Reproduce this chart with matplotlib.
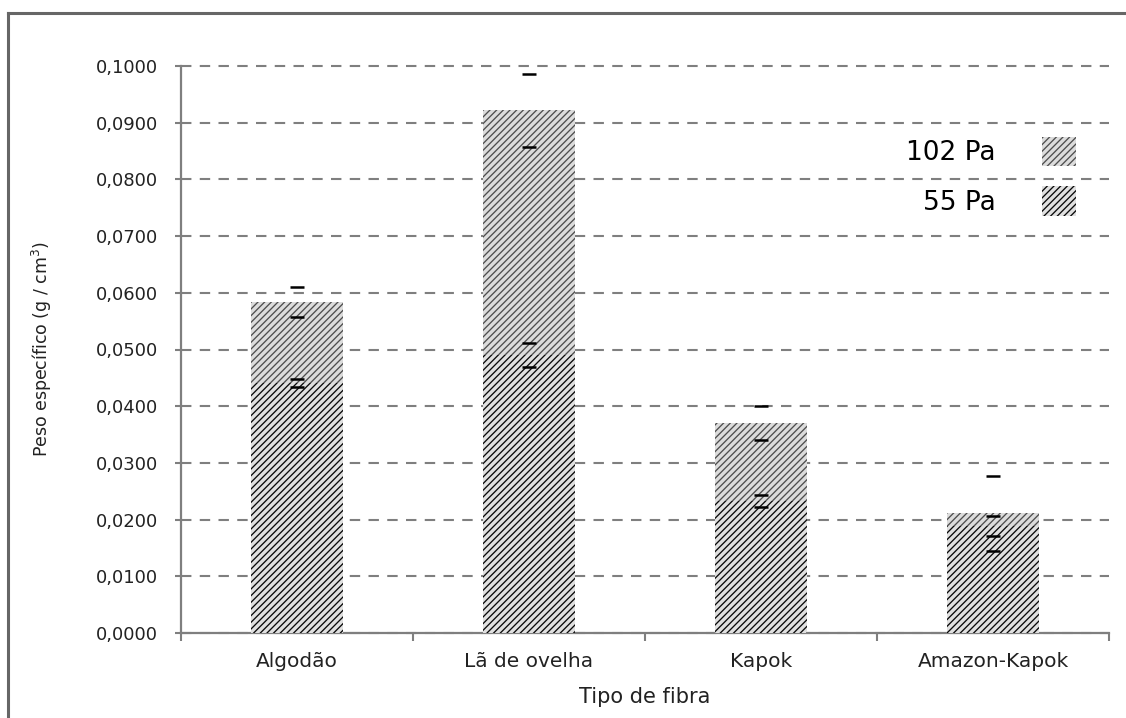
import matplotlib.pyplot as plt
import numpy as np
from matplotlib.lines import Line2D
from matplotlib.patches import Patch
from matplotlib.ticker import FixedLocator, FuncFormatter

categories = ["Algodão", "Lã de ovelha", "Kapok", "Amazon-Kapok"]
peso_102 = [0.0584, 0.0922, 0.0370, 0.0211]
erro_102 = [0.0026, 0.0064, 0.0030, 0.0066]
peso_55 = [0.0441, 0.0490, 0.0233, 0.0189]
erro_55 = [0.0007, 0.0021, 0.0011, 0.0018]
y_ticks = [0.0, 0.01, 0.02, 0.03, 0.04, 0.05, 0.06, 0.07, 0.08, 0.09, 0.10]

plt.rcParams["font.family"] = ["DejaVu Sans"]
plt.rcParams["hatch.linewidth"] = 0.95

fig = plt.figure(figsize=(11.26, 7.18), dpi=100)
ax = fig.add_axes([181 / 1126, 1 - 633 / 718, 928 / 1126, 567 / 718])

x = np.arange(len(categories))
width = 0.4
gray = "#7f7f7f"
light = dict(facecolor="#dcdcdc", edgecolor="#4e4e4e", linewidth=0, hatch="/////")
dark = dict(facecolor="#e0e0e0", edgecolor="#0a0a0a", linewidth=0, hatch="/////")

ax.bar(x, peso_102, width, zorder=2, label="102 Pa", **light)
ax.bar(x, peso_55, width, zorder=3, label="55 Pa", **dark)
ax.errorbar(x, peso_102, yerr=erro_102, fmt="none", ecolor="black", elinewidth=0,
            capsize=5, capthick=1.8, zorder=4)
ax.errorbar(x, peso_55, yerr=erro_55, fmt="none", ecolor="black", elinewidth=0,
            capsize=5, capthick=1.8, zorder=4)

ax.set_xlim(-0.5, len(categories) - 0.5)
ax.set_ylim(0, 0.1)
ax.set_yticks(y_ticks)
ax.yaxis.set_major_formatter(FuncFormatter(lambda v, _: f"{v:.4f}".replace(".", ",")))
ax.yaxis.grid(True, color=gray, linestyle=(0, (5, 4)), linewidth=1.5, zorder=0)
ax.set_axisbelow(True)
for line in ax.get_ygridlines():
    line.set_clip_on(False)

ax.set_xticks(x)
ax.set_xticklabels(categories, fontsize=14.5, color="#222222")
ax.xaxis.set_minor_locator(FixedLocator(np.arange(-0.5, len(categories), 1.0)))
ax.tick_params(axis="x", which="major", length=0, pad=14)
ax.tick_params(axis="x", which="minor", length=6, width=1.5, color=gray, direction="out")
ax.tick_params(axis="y", length=4.5, width=1.5, color=gray, pad=12, labelsize=13,
               labelcolor="#222222")

for side in ["top", "right"]:
    ax.spines[side].set_visible(False)
for side in ["left", "bottom"]:
    ax.spines[side].set_color(gray)
    ax.spines[side].set_linewidth(1.6)

ax.set_xlabel("Tipo de fibra", fontsize=15, color="#222222")
ax.set_ylabel("Peso específico (g / cm$^3$)", fontsize=12.5, color="#222222")
ax.xaxis.set_label_coords(0.5, -0.095)
ax.yaxis.set_label_coords(-0.137, 0.5)

handles = [Patch(**light), Patch(**dark)]
ax.legend(handles, ["102 Pa", "55 Pa"], loc="upper right", frameon=False,
          markerfirst=False, fontsize=19, handlelength=1.3, handleheight=1.33,
          handletextpad=1.75, labelspacing=0.75, borderpad=0, borderaxespad=0,
          bbox_to_anchor=(1076 / 1126, 1 - 137 / 718), bbox_transform=fig.transFigure)

# outer frame, only top and left edges are visible in the picture
fig.add_artist(Line2D([8 / 1126, 1], [1 - 13 / 718] * 2, transform=fig.transFigure,
                      color="#666666", linewidth=2.2))
fig.add_artist(Line2D([8 / 1126] * 2, [0, 1 - 13 / 718], transform=fig.transFigure,
                      color="#666666", linewidth=2.2))

fig.savefig("out.png", dpi=100)
